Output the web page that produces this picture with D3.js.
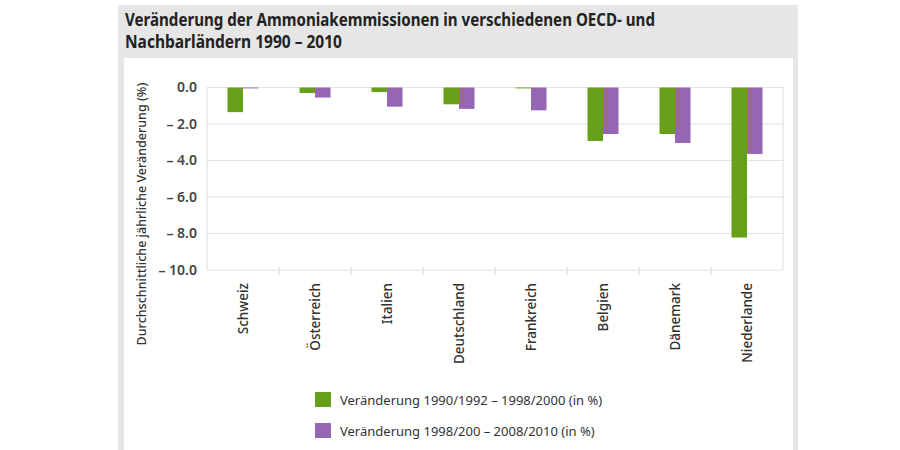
<!DOCTYPE html>
<html><head><meta charset="utf-8">
<script src="https://cdn.jsdelivr.net/npm/d3@7"></script>
<style>body{margin:0;background:#fff;}svg{display:block;}</style>
</head><body>
<svg id="c" width="900" height="450"></svg>
<script>
const categories = ["Schweiz","Österreich","Italien","Deutschland","Frankreich","Belgien","Dänemark","Niederlande"];
const series1 = [-1.35,-0.3,-0.25,-0.92,-0.05,-2.93,-2.55,-8.22];
const series2 = [-0.05,-0.55,-1.05,-1.17,-1.25,-2.55,-3.04,-3.64];
const seriesNames = ["Veränderung 1990/1992 – 1998/2000 (in %)","Veränderung 1998/200 – 2008/2010 (in %)"];
const yTicks = [0,-2,-4,-6,-8,-10];
const titleLines = ["Veränderung der Ammoniakemmissionen in verschiedenen OECD- und","Nachbarländern 1990 – 2010"];
const yTitle = "Durchschnittliche jährliche Veränderung (%)";
const colors = ["#66a01b","#9566b4"];

const svg = d3.select("#c");
const font = "'Noto Sans', 'Open Sans', sans-serif";
// frame
svg.append("rect").attr("x",118).attr("y",5).attr("width",680).attr("height",445).attr("fill","#e6e6e6");
svg.append("rect").attr("x",124).attr("y",58).attr("width",669).attr("height",392).attr("fill","#ffffff");

// title
svg.selectAll("text.title").data(titleLines).join("text")
  .attr("x",125).attr("y",(d,i)=>26+i*22)
  .attr("font-family",font).attr("font-weight","bold").attr("font-size",17)
  .attr("fill","#222")
  .attr("textLength",(d,i)=> i===0 ? 530 : 217).attr("lengthAdjust","spacingAndGlyphs")
  .text(d=>d);

const x0 = d3.scaleBand().domain(categories).range([207,783]);
const x1 = d3.scaleBand().domain([0,1]).range([0,31]);
const y = d3.scaleLinear().domain([0,-10]).range([87.5,270]);

// gridlines
svg.append("g").selectAll("line").data(yTicks).join("line")
  .attr("x1",207).attr("x2",783).attr("y1",d=>y(d)).attr("y2",d=>y(d))
  .attr("stroke","#e2e2e2").attr("stroke-width",1.2);
svg.append("line").attr("x1",207).attr("x2",207).attr("y1",y(0)).attr("y2",y(-10)).attr("stroke","#e2e2e2").attr("stroke-width",1.2);
svg.append("line").attr("x1",783).attr("x2",783).attr("y1",y(0)).attr("y2",y(-10)).attr("stroke","#e2e2e2").attr("stroke-width",1.2);
// category boundary ticks
svg.append("g").selectAll("line").data(categories.slice(1)).join("line")
  .attr("x1",d=>x0(d)).attr("x2",d=>x0(d)).attr("y1",y(-10)-3).attr("y2",y(-10)+5)
  .attr("stroke","#d8d8d8").attr("stroke-width",1.2);

// y axis
const yAxis = d3.axisLeft(y).tickValues(yTicks).tickSize(0).tickPadding(0)
  .tickFormat(d=> d===0 ? "0.0" : "– " + Math.abs(d).toFixed(1));
const ga = svg.append("g").attr("transform","translate(197,0)").call(yAxis);
ga.select(".domain").remove();
ga.selectAll("text").attr("font-family",font).attr("font-size",14).attr("font-weight","600").attr("fill","#444");

// bars
const groups = svg.append("g").selectAll("g").data(categories).join("g")
  .attr("transform",d=>`translate(${x0(d)+x0.bandwidth()/2-15.5},0)`);
[series1,series2].forEach((s,si)=>{
  groups.append("rect")
    .attr("x",x1(si)).attr("width",x1.bandwidth())
    .attr("y",(d,i)=>y(0))
    .attr("height",(d,i)=>Math.max(0.8,y(s[i])-y(0)))
    .attr("fill",colors[si]);
});

// category labels
svg.append("g").selectAll("text").data(categories).join("text")
  .attr("transform",d=>`translate(${x0(d)+x0.bandwidth()/2},283) rotate(-90)`)
  .attr("text-anchor","end").attr("dy","0.35em")
  .attr("font-family",font).attr("font-size",13.5).attr("font-weight","500").attr("fill","#333")
  .text(d=>d);

// y title
svg.append("text").attr("transform","translate(142,214) rotate(-90)")
  .attr("text-anchor","middle").attr("dy","0.35em")
  .attr("font-family",font).attr("font-size",12.5).attr("font-weight","500").attr("fill","#333")
  .text(yTitle);

// legend
const lg = svg.append("g").selectAll("g").data(seriesNames).join("g")
  .attr("transform",(d,i)=>`translate(315,${392+i*31})`);
lg.append("rect").attr("width",16).attr("height",15).attr("fill",(d,i)=>colors[i]);
lg.append("text").attr("x",25).attr("y",13).attr("font-family",font).attr("font-size",13).attr("fill","#333").text(d=>d);
</script>
</body></html>
